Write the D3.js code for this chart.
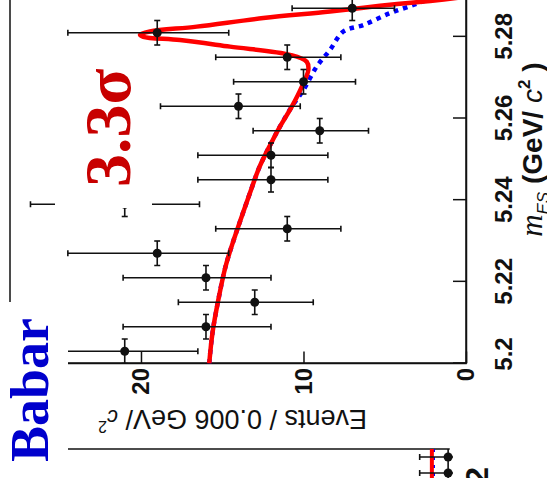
<!DOCTYPE html>
<html><head><meta charset="utf-8">
<script src="https://cdn.jsdelivr.net/npm/d3@7/dist/d3.min.js"></script>
<style>html,body{margin:0;padding:0;background:#fff;overflow:hidden}</style>
</head><body>
<svg id="c" width="547" height="478"></svg>
<script>
// ---- data ----
const mES = [5.203,5.209,5.215,5.221,5.227,5.233,5.239,5.245,5.251,5.257,5.263,5.269,5.275,5.281,5.287];
const events = [21,16,13,16,19,11,21,12,12,9,14,10,11,19,7];
const errHigh = [5.6,5.1,4.7,5.1,5.5,4.4,5.8,4.5,4.5,4.1,4.8,4.3,4.4,5.5,3.7];
const errLow  = [4.5,4.0,3.6,4.0,4.4,3.3,4.6,3.5,3.5,3.0,3.8,3.2,3.3,4.4,2.6];
const binHalf = 0.003;

const fitM  = [5.200,5.2075,5.2156,5.2237,5.2302,5.236,5.2417,5.2482,5.2539,5.258,5.2629,5.2678,5.2719,5.2739,5.2756,5.2776,5.2792,5.2800,5.2805,5.2813,5.2825,5.2846,5.2862,5.2876,5.2888,5.2898];
const fitEv = [15.8,15.6,15.24,14.8,14.3,13.8,13.3,12.7,12.0,11.45,10.72,10.1,9.70,9.80,10.83,14.52,17.6,19.86,20.06,19.45,16.57,12.47,8.37,5.29,2.2,0.0];

const bkgM  = [5.200,5.2075,5.2156,5.2237,5.2302,5.236,5.2417,5.2482,5.2539,5.258,5.2629,5.2670,5.2727,5.2768,5.2813,5.2829,5.2858,5.2878,5.2890,5.2898];
const bkgEv = [15.8,15.6,15.24,14.8,14.3,13.8,13.3,12.7,12.0,11.45,10.72,10.0,9.19,8.37,7.55,6.32,4.68,3.24,2.42,1.9];

const mTicks = [5.2,5.22,5.24,5.26,5.28];
const mTickLabels = ["5.2","5.22","5.24","5.26","5.28"];
const evTicks = [0,10,20];
const evTickLabels = ["0","10","20"];

// second (cut-off) panel
const p2M = [5.287,5.281];
const p2Ev = [1.1,1.1];
const p2ErrHigh = [1.75,1.75];
const p2ErrLow = [0.3,0.3];
const p2FitM = [5.29,5.2782];
const p2FitEv = [2.1,2.1];
const p2BkgEv = [2.0,2.0];

// ---- layout ----
const svg = d3.select("#c");
const W = 367.5, H = 456;
const x = d3.scaleLinear().domain([5.2,5.29]).range([0,W]);
const y = d3.scaleLinear().domain([0,28.06]).range([H,0]);
const x2 = d3.scaleLinear().domain([5.29,5.26]).range([-85.5,-165.5]);

const g = svg.append("g").attr("transform","translate(10,363.5) rotate(-90)");
const ink = "#111";

g.append("clipPath").attr("id","clip").append("rect")
  .attr("x",0).attr("y",0).attr("width",W).attr("height",H);

// second panel fragment
const p2 = g.append("g");
p2.append("line").attr("x1",-85.5).attr("x2",-85.5).attr("y1",0).attr("y2",y(1.0))
  .attr("stroke",ink).attr("stroke-width",1.5);
p2.append("path").datum(p2FitM.map((m,i)=>[m,p2BkgEv[i]]))
  .attr("d",d3.line().x(d=>x2(d[0])).y(d=>y(d[1])))
  .attr("fill","none").attr("stroke","#0000ff").attr("stroke-width",3).attr("stroke-dasharray","3,5");
p2.append("path").datum(p2FitM.map((m,i)=>[m,p2FitEv[i]]))
  .attr("d",d3.line().x(d=>x2(d[0])).y(d=>y(d[1])))
  .attr("fill","none").attr("stroke","#ff0000").attr("stroke-width",4);
p2M.forEach((m,i)=>{
  const u = x2(m);
  p2.append("line").attr("x1",u).attr("x2",u).attr("y1",y(p2Ev[i]+p2ErrHigh[i])).attr("y2",y(p2Ev[i]-p2ErrLow[i]))
    .attr("stroke",ink).attr("stroke-width",1.6);
  p2.append("line").attr("x1",u-3).attr("x2",u+3).attr("y1",y(p2Ev[i]+p2ErrHigh[i])).attr("y2",y(p2Ev[i]+p2ErrHigh[i]))
    .attr("stroke",ink).attr("stroke-width",1.6);
  p2.append("line").attr("x1",x2(m+binHalf)).attr("x2",x2(m-binHalf)).attr("y1",y(p2Ev[i])).attr("y2",y(p2Ev[i]))
    .attr("stroke",ink).attr("stroke-width",1.6);
  p2.append("circle").attr("cx",u).attr("cy",y(p2Ev[i])).attr("r",4.5).attr("fill",ink);
});
p2.append("text").attr("x",-103.5).attr("y",478).attr("text-anchor","end")
  .attr("font-family","Liberation Sans, Arial, sans-serif").attr("font-weight","bold").attr("font-size",32)
  .attr("fill",ink).text("5.2");

// frame
g.append("rect").attr("x",0).attr("y",0).attr("width",W).attr("height",H)
  .attr("fill","none").attr("stroke",ink).attr("stroke-width",1.5);

// axes
const xAxis = d3.axisBottom(x).tickValues(mTicks).tickFormat((d,i)=>mTickLabels[i])
  .tickSizeInner(-13).tickSizeOuter(0);
const gx = g.append("g").attr("transform",`translate(0,${H})`).call(xAxis);
const yAxis = d3.axisLeft(y).tickValues(evTicks).tickFormat((d,i)=>evTickLabels[i])
  .tickSizeInner(-12).tickSizeOuter(0).tickPadding(4.5);
const gy = g.append("g").call(yAxis);
[gx,gy].forEach(a=>{
  a.select(".domain").attr("stroke",ink).attr("stroke-width",1.5);
  a.selectAll(".tick line").attr("stroke",ink).attr("stroke-width",1.5);
  a.selectAll("text").attr("font-family","Liberation Sans, Arial, sans-serif")
    .attr("font-weight","bold").attr("font-size",24).attr("fill",ink);
});
gx.selectAll("text").attr("y",46).attr("dy",0);
gx.selectAll(".tick").filter((d,i)=>i===0).select("text").attr("x",9);

// axis titles
const yt = g.append("text").attr("transform","translate(-46.5,88) rotate(-90)")
  .attr("text-anchor","end").attr("font-family","Liberation Sans, Arial, sans-serif")
  .attr("font-size",27).attr("fill",ink);
yt.append("tspan").text("Events / 0.006 GeV/ ");
yt.append("tspan").attr("font-style","italic").attr("font-size",22).text("c");
yt.append("tspan").attr("font-size",16).attr("dy",-11).text("2");

const xt = g.append("text").attr("x",301).attr("y",H+76).attr("text-anchor","end")
  .attr("font-family","Liberation Sans, Arial, sans-serif").attr("font-weight","bold")
  .attr("font-size",28).attr("fill",ink);
xt.append("tspan").attr("font-style","italic").attr("font-weight","normal").attr("font-family","Liberation Serif, serif").attr("font-size",31).text("m");
xt.append("tspan").attr("font-style","italic").attr("font-weight","normal").attr("font-size",17).attr("dy",7).text("ES");
xt.append("tspan").attr("dy",-7).text("  (GeV/ ");
xt.append("tspan").attr("font-style","italic").attr("font-weight","normal").text("c");
xt.append("tspan").attr("font-size",17).attr("dy",-12).text("2");
xt.append("tspan").attr("dy",12).text(" )");

// data layer
const data = g.append("g").attr("clip-path","url(#clip)");
const line = d3.line().x(d=>x(d[0])).y(d=>y(d[1])).curve(d3.curveCatmullRom.alpha(0.5));
data.append("path").datum(bkgM.map((m,i)=>[m,bkgEv[i]])).attr("d",line)
  .attr("fill","none").attr("stroke","#0000ff").attr("stroke-width",4.5).attr("stroke-dasharray","4.5,5");
data.append("path").datum(fitM.map((m,i)=>[m,fitEv[i]])).attr("d",line)
  .attr("fill","none").attr("stroke","#ff0000").attr("stroke-width",4.5).attr("stroke-linejoin","round");

const pts = mES.map((m,i)=>({m,ev:events[i],hi:errHigh[i],lo:errLow[i]}));
const eb = data.append("g").attr("stroke",ink).attr("stroke-width",1.6);
pts.forEach(p=>{
  const u = x(p.m), vh = y(p.ev+p.hi), vl = y(p.ev-p.lo), v = y(p.ev);
  eb.append("line").attr("x1",u).attr("x2",u).attr("y1",vh).attr("y2",vl);
  eb.append("line").attr("x1",u-3).attr("x2",u+3).attr("y1",vh).attr("y2",vh);
  eb.append("line").attr("x1",u-3).attr("x2",u+3).attr("y1",vl).attr("y2",vl);
  const a = x(p.m-binHalf), b = x(p.m+binHalf);
  eb.append("line").attr("x1",a).attr("x2",b).attr("y1",v).attr("y2",v);
  eb.append("line").attr("x1",a).attr("x2",a).attr("y1",v-3).attr("y2",v+3);
  eb.append("line").attr("x1",b).attr("x2",b).attr("y1",v-3).attr("y2",v+3);
});
data.selectAll("circle.pt").data(pts).join("circle").attr("class","pt")
  .attr("cx",d=>x(d.m)).attr("cy",d=>y(d.ev)).attr("r",4.5).attr("fill",ink);

// 3.3 sigma label with white box
g.append("rect").attr("x",155.5).attr("y",45).attr("width",145).attr("height",97).attr("fill","#fff");
g.append("text").attr("x",176.5).attr("y",120)
  .attr("font-family","Liberation Serif, Times New Roman, serif").attr("font-weight","bold")
  .attr("font-size",66).attr("fill","#c80000").text("3.3σ");

// Babar label with white box
g.append("rect").attr("x",-120).attr("y",-10).attr("width",181.5).attr("height",68).attr("fill","#fff");
g.append("text").attr("x",-98.5).attr("y",38)
  .attr("font-family","Liberation Serif, Times New Roman, serif").attr("font-weight","bold")
  .attr("font-size",54).attr("fill","#0000cc").text("Babar");
</script>
</body></html>
